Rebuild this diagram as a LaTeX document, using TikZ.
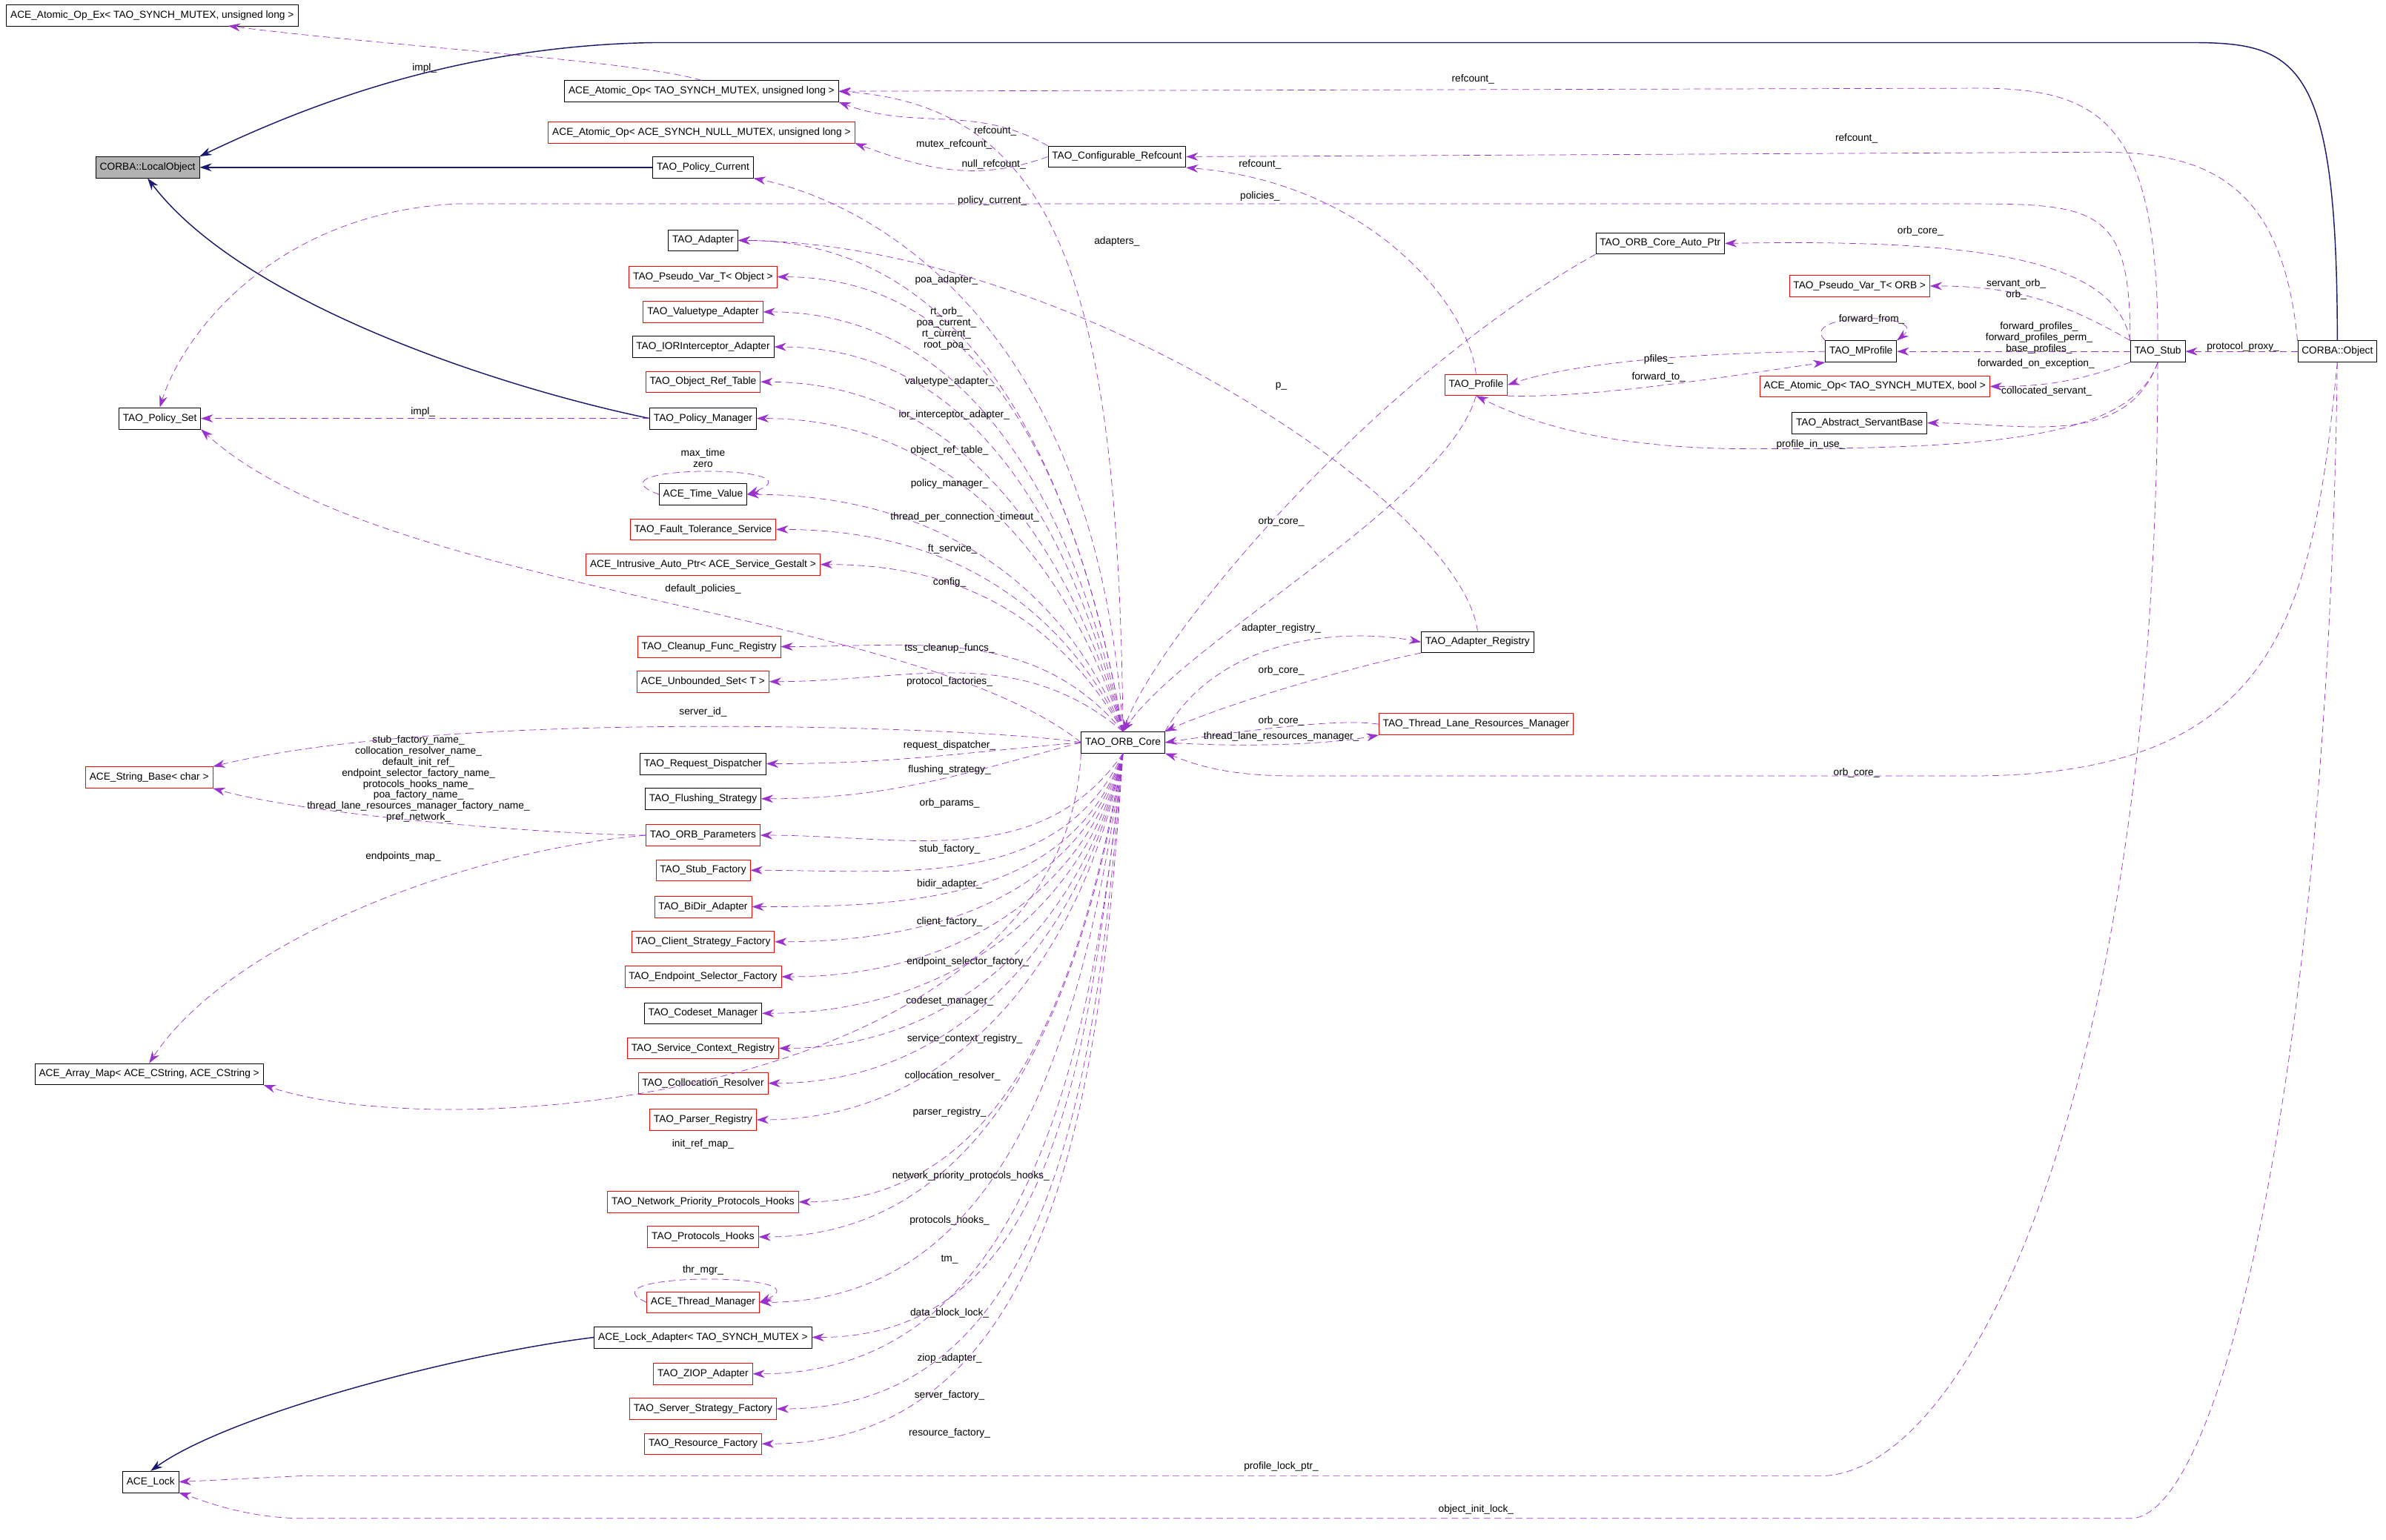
\documentclass[tikz,border=0pt]{standalone}
\usepackage{fontspec}
\setmainfont{Liberation Sans}
\usetikzlibrary{arrows.meta}
\definecolor{edgepurple}{HTML}{9A32CD}
\definecolor{inhblue}{HTML}{191970}
\catcode`\_=12
\begin{document}
\begin{tikzpicture}[x=0.04cm, y=-0.04cm,
    cls/.style={draw=black, fill=white, inner xsep=3pt, inner ysep=0pt, minimum height=14*0.04cm, font=\fontsize{7.6}{9}\selectfont},
    redcls/.style={cls, draw=red},
    dep/.style={draw=edgepurple, dashed, dash pattern=on 5pt off 3pt, -{Stealth[length=9pt,width=6pt]}},
    inh/.style={draw=inhblue, thick, -{Stealth[length=9pt,width=6pt]}},
    lab/.style={font=\fontsize{7.6}{8.2}\selectfont, inner sep=0pt, align=center}]
    \useasboundingbox[fill=white] (0,0) rectangle (1568,1012);

    % left side
    \node[cls] (aopex) at (100,10) {ACE_Atomic_Op_Ex< TAO_SYNCH_MUTEX, unsigned long >};
    \node[cls, fill=black!30] (lobj) at (97,110) {CORBA::LocalObject};
    \node[cls] (polset) at (105,275) {TAO_Policy_Set};
    \node[redcls] (strbase) at (98,511) {ACE_String_Base< char >};
    \node[cls] (arrmap) at (98,706) {ACE_Array_Map< ACE_CString, ACE_CString >};
    \node[cls] (acelock) at (99,974) {ACE_Lock};

    % middle column
    \node[cls] (aop) at (461,60) {ACE_Atomic_Op< TAO_SYNCH_MUTEX, unsigned long >};
    \node[redcls] (aopnull) at (461,87) {ACE_Atomic_Op< ACE_SYNCH_NULL_MUTEX, unsigned long >};
    \node[cls] (polcur) at (462,110) {TAO_Policy_Current};
    \node[cls] (adapter) at (462,158) {TAO_Adapter};
    \node[redcls] (pvobj) at (462,182) {TAO_Pseudo_Var_T< Object >};
    \node[redcls] (vtadapter) at (462,205) {TAO_Valuetype_Adapter};
    \node[cls] (iorad) at (462,228) {TAO_IORInterceptor_Adapter};
    \node[redcls] (reftable) at (462,251) {TAO_Object_Ref_Table};
    \node[cls] (polmgr) at (462,275) {TAO_Policy_Manager};
    \node[cls] (timeval) at (462,325) {ACE_Time_Value};
    \node[redcls] (ftserv) at (462,348) {TAO_Fault_Tolerance_Service};
    \node[redcls] (autoptr) at (462,371) {ACE_Intrusive_Auto_Ptr< ACE_Service_Gestalt >};
    \node[redcls] (cleanup) at (466,425) {TAO_Cleanup_Func_Registry};
    \node[redcls] (unbset) at (462,448) {ACE_Unbounded_Set< T >};
    \node[cls] (reqdisp) at (462,502) {TAO_Request_Dispatcher};
    \node[cls] (flush) at (462,525) {TAO_Flushing_Strategy};
    \node[redcls] (orbparams) at (462,549) {TAO_ORB_Parameters};
    \node[redcls] (stubfac) at (462,572) {TAO_Stub_Factory};
    \node[redcls] (bidir) at (462,596) {TAO_BiDir_Adapter};
    \node[redcls] (clientfac) at (462,619) {TAO_Client_Strategy_Factory};
    \node[redcls] (epselfac) at (462,642) {TAO_Endpoint_Selector_Factory};
    \node[cls] (codeset) at (462,666) {TAO_Codeset_Manager};
    \node[redcls] (screg) at (462,689) {TAO_Service_Context_Registry};
    \node[redcls] (collres) at (462,712) {TAO_Collocation_Resolver};
    \node[redcls] (parsreg) at (462,736) {TAO_Parser_Registry};
    \node[redcls] (netprio) at (462,790) {TAO_Network_Priority_Protocols_Hooks};
    \node[redcls] (prothooks) at (462,813) {TAO_Protocols_Hooks};
    \node[redcls] (thrmgr) at (462,856) {ACE_Thread_Manager};
    \node[cls] (lockad) at (462,879) {ACE_Lock_Adapter< TAO_SYNCH_MUTEX >};
    \node[redcls] (ziop) at (462,903) {TAO_ZIOP_Adapter};
    \node[redcls] (servfac) at (462,926) {TAO_Server_Strategy_Factory};
    \node[redcls] (resfac) at (462,949) {TAO_Resource_Factory};

    % core and right side
    \node[cls] (core) at (738,488) {TAO_ORB_Core};
    \node[cls] (cfgref) at (734,103) {TAO_Configurable_Refcount};
    \node[cls] (coreptr) at (1091,160) {TAO_ORB_Core_Auto_Ptr};
    \node[redcls] (profile) at (970,253) {TAO_Profile};
    \node[cls] (adreg) at (971,422) {TAO_Adapter_Registry};
    \node[redcls] (tlrm) at (970,476) {TAO_Thread_Lane_Resources_Manager};
    \node[redcls] (pvorb) at (1222,188) {TAO_Pseudo_Var_T< ORB >};
    \node[cls] (mprof) at (1223,231) {TAO_MProfile};
    \node[redcls] (aopbool) at (1232,254) {ACE_Atomic_Op< TAO_SYNCH_MUTEX, bool >};
    \node[cls] (servbase) at (1222,278) {TAO_Abstract_ServantBase};
    \node[cls] (stub) at (1418,231) {TAO_Stub};
    \node[cls] (cobj) at (1536,231) {CORBA::Object};

    % inheritance
    \draw[inh] (cobj.north) .. controls (1536,40) and (1510,28) .. (1440,28) -- (430,28) .. controls (300,30) and (200,70) .. (lobj.north east);
    \draw[inh] (polcur.west) -- (lobj.east);
    \draw[inh] (polmgr.west) .. controls (330,255) and (160,200) .. (lobj.south);
    \draw[inh] (lockad.west) .. controls (300,890) and (150,930) .. (acelock.north);

    % core members in the middle column
    \foreach \t/\s/\o/\txt/\lx/\ly in {
        adapter/north/100/poa_adapter_/622/184,
        pvobj/north/100/{rt_orb_\\poa_current_\\rt_current_\\root_poa_}/622/216,
        vtadapter/north/102/valuetype_adapter_/624/251,
        iorad/north/104/ior_interceptor_adapter_/627/273,
        reftable/north/106/object_ref_table_/624/296,
        polmgr/north/108/policy_manager_/624/318,
        timeval/north/112/thread_per_connection_timeout_/634/340,
        ftserv/north/116/ft_service_/626/361,
        autoptr/north/120/config_/624/383,
        cleanup/north/130/tss_cleanup_funcs_/624/426,
        unbset/north/140/protocol_factories_/624/448,
        reqdisp/west/185/request_dispatcher_/624/490,
        flush/west/195/flushing_strategy_/624/506,
        orbparams/south/235/orb_params_/624/528,
        stubfac/south/245/stub_factory_/624/558,
        bidir/south/250/bidir_adapter_/624/581,
        clientfac/south/252/client_factory_/624/606,
        epselfac/south/254/endpoint_selector_factory_/636/632,
        codeset/south/256/codeset_manager_/624/658,
        screg/south/257/service_context_registry_/634/683,
        collres/south/258/collocation_resolver_/626/707,
        parsreg/south/259/parser_registry_/624/731,
        netprio/south/260/network_priority_protocols_hooks_/638/773,
        prothooks/south/261/protocols_hooks_/624/802,
        thrmgr/south/262/tm_/624/828,
        lockad/south/263/data_block_lock_/624/863,
        ziop/south/264/ziop_adapter_/624/893,
        servfac/south/265/server_factory_/624/917,
        resfac/south/266/resource_factory_/624/942} {
      \draw[dep] (core.\s) to[out=\o, in=0] (\t.east);
      \node[lab] at (\lx,\ly) {\txt};
    }

    % other dependencies
    \draw[dep] (aop.north) .. controls (420,40) and (250,30) .. (150,17);
    \node[lab] at (279,45) {impl_};
    \draw[dep] (core.north) .. controls (735,200) and (700,70) .. (aop.east);
    \node[lab] at (654,86) {refcount_};
    \draw[dep] (cfgref.north west) to[out=150, in=-20] (aop.south east);
    \node[lab] at (627,95) {mutex_refcount_};
    \draw[dep] (cfgref.west) to[out=200, in=-20] (aopnull.south east);
    \node[lab] at (653,108) {null_refcount_};
    \draw[dep] (stub.north) .. controls (1418,80) and (1380,58) .. (1300,58) -- (aop.east);
    \node[lab] at (968,52) {refcount_};
    \draw[dep] (cobj.north west) .. controls (1500,120) and (1450,100) .. (1380,100) -- (cfgref.east);
    \node[lab] at (1220,91) {refcount_};
    \draw[dep] (profile.north) .. controls (965,200) and (900,120) .. (cfgref.south east);
    \node[lab] at (828,108) {refcount_};
    \draw[dep] (core.north) .. controls (720,200) and (560,130) .. (polcur.south east);
    \node[lab] at (652,132) {policy_current_};
    \draw[dep] (stub.north west) .. controls (1400,140) and (1380,134) .. (1300,134) -- (300,134) .. controls (180,140) and (120,220) .. (polset.north);
    \node[lab] at (828,129) {policies_};
    \draw[dep] (core.west) .. controls (600,400) and (250,390) .. (polset.south east);
    \node[lab] at (462,387) {default_policies_};
    \draw[dep] (polmgr.west) -- (polset.east);
    \node[lab] at (278,271) {impl_};
    \draw[dep] (adreg.north) .. controls (960,330) and (700,160) .. (adapter.east);
    \node[lab] at (734,159) {adapters_};
    \draw[dep] (coreptr.south west) .. controls (900,250) and (760,420) .. (core.north);
    \node[lab] at (842,254) {p_};
    \draw[dep] (stub.north west) .. controls (1390,170) and (1300,157) .. (coreptr.east);
    \node[lab] at (1262,152) {orb_core_};
    \draw[dep] (stub.north west) to[out=150, in=0] (pvorb.east);
    \node[lab] at (1325,190) {servant_orb_\\orb_};
    \draw[dep] (mprof.north west) .. controls (1180,205) and (1270,205) .. (mprof.north east);
    \node[lab] at (1230,210) {forward_from_};
    \draw[dep] (stub.west) -- (mprof.east);
    \node[lab] at (1340,222) {forward_profiles_\\forward_profiles_perm_\\base_profiles_};
    \draw[dep] (mprof.west) .. controls (1100,232) and (1030,240) .. (profile.east);
    \node[lab] at (1090,236) {pfiles_};
    \draw[dep] (profile.south east) .. controls (1050,262) and (1150,245) .. (mprof.south west);
    \node[lab] at (1090,248) {forward_to_};
    \draw[dep] (stub.south west) to[out=200, in=0] (aopbool.east);
    \node[lab] at (1338,239) {forwarded_on_exception_};
    \draw[dep] (stub.south) to[out=250, in=0] (servbase.east);
    \node[lab] at (1345,257) {collocated_servant_};
    \draw[dep] (stub.south) .. controls (1400,290) and (1300,295) .. (1150,295) .. controls (1050,295) and (1000,275) .. (profile.south);
    \node[lab] at (1190,292) {profile_in_use_};
    \draw[dep] (profile.south) .. controls (950,330) and (780,420) .. (core.north);
    \node[lab] at (842,343) {orb_core_};
    \draw[dep] (cobj.west) -- (stub.east);
    \node[lab] at (1474,228) {protocol_proxy_};
    \draw[dep] (core.north east) .. controls (800,420) and (880,412) .. (adreg.west);
    \node[lab] at (842,413) {adapter_registry_};
    \draw[dep] (adreg.south west) .. controls (880,440) and (800,465) .. (core.north east);
    \node[lab] at (842,441) {orb_core_};
    \draw[dep] (tlrm.west) .. controls (880,472) and (820,480) .. (core.east);
    \node[lab] at (842,474) {orb_core_};
    \draw[dep] (core.east) .. controls (830,492) and (880,488) .. (tlrm.south west);
    \node[lab] at (842,484) {thread_lane_resources_manager_};
    \draw[dep] (cobj.south) .. controls (1520,400) and (1500,508) .. (1300,510) -- (850,510) .. controls (800,510) and (780,500) .. (core.south east);
    \node[lab] at (1220,508) {orb_core_};
    \draw[dep] (timeval.west) .. controls (380,305) and (545,305) .. (timeval.east);
    \node[lab] at (462,301) {max_time\\zero};
    \draw[dep] (thrmgr.west) .. controls (380,836) and (545,836) .. (thrmgr.east);
    \node[lab] at (462,835) {thr_mgr_};
    \draw[dep] (core.west) .. controls (650,478) and (300,465) .. (strbase.north east);
    \node[lab] at (462,468) {server_id_};
    \draw[dep] (orbparams.west) .. controls (350,548) and (200,535) .. (strbase.south east);
    \node[lab] at (275,512) {stub_factory_name_\\collocation_resolver_name_\\default_init_ref_\\endpoint_selector_factory_name_\\protocols_hooks_name_\\poa_factory_name_\\thread_lane_resources_manager_factory_name_\\pref_network_};
    \draw[dep] (orbparams.west) .. controls (300,560) and (150,620) .. (arrmap.north);
    \node[lab] at (265,563) {endpoints_map_};
    \draw[dep] (core.south west) .. controls (700,720) and (300,755) .. (arrmap.south east);
    \node[lab] at (462,752) {init_ref_map_};
    \draw[dep] (stub.south) .. controls (1418,700) and (1300,962) .. (1200,970) -- (200,970) -- (acelock.east);
    \node[lab] at (842,964) {profile_lock_ptr_};
    \draw[dep] (cobj.south) .. controls (1530,700) and (1460,998) .. (1400,998) -- (200,998) .. controls (160,998) and (130,985) .. (acelock.south east);
    \node[lab] at (970,992) {object_init_lock_};
\end{tikzpicture}
\end{document}
